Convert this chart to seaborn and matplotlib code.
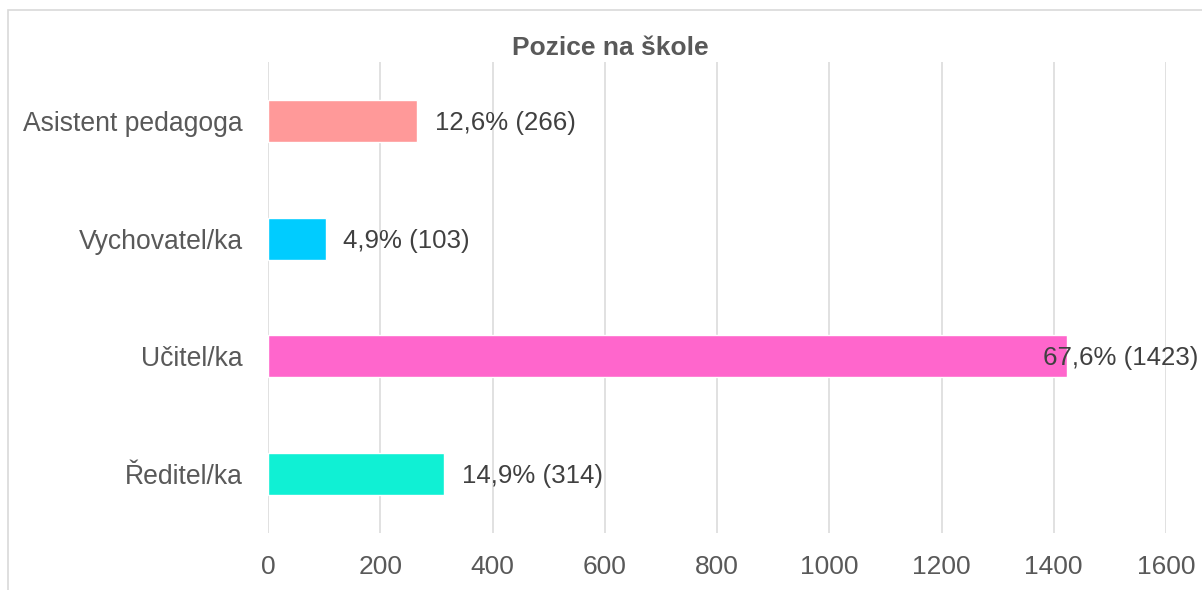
import matplotlib
matplotlib.use("Agg")
import matplotlib.pyplot as plt
import seaborn as sns
import pandas as pd
from matplotlib.patches import Rectangle

categories = ["Asistent pedagoga", "Vychovatel/ka", "Učitel/ka", "Ředitel/ka"]
counts = [266, 103, 1423, 314]
percents = ["12,6%", "4,9%", "67,6%", "14,9%"]
colors = ["#FF9999", "#00CCFF", "#FF66CC", "#10F0D4"]
x_ticks = [0, 200, 400, 600, 800, 1000, 1200, 1400, 1600]
title = "Pozice na škole"

sns.set_theme(style="white")
plt.rcParams["font.family"] = ["Liberation Sans", "DejaVu Sans"]

df = pd.DataFrame({"pozice": categories, "pocet": counts})

W, H = 1202, 590
fig = plt.figure(figsize=(W / 100, H / 100), dpi=100)
fig.patch.set_facecolor("white")
ax = fig.add_axes([268 / W, 1 - 533 / H, (1166 - 268) / W, (533 - 62) / H])

sns.barplot(data=df, x="pocet", y="pozice", hue="pozice", palette=colors,
            order=categories, hue_order=categories, legend=False,
            width=0.357, orient="h", ax=ax, saturation=1)

ax.set_xlim(0, 1600)
ax.set_ylim(3.5, -0.5)
ax.set_xticks(x_ticks)
ax.set_xticklabels([str(t) for t in x_ticks])
ax.set_xlabel("")
ax.set_ylabel("")
for s in ax.spines.values():
    s.set_visible(False)
ax.grid(axis="x", color="#D9D9D9", linewidth=1.1)
ax.grid(axis="y", visible=False)
ax.set_axisbelow(True)
ax.tick_params(axis="x", length=0, pad=16, labelsize=19, labelcolor="#595959")
ax.tick_params(axis="y", length=0, pad=18, labelsize=19.1, labelcolor="#595959")

for i, (c, p) in enumerate(zip(counts, percents)):
    off = 12.5 if c < 0.85 * 1600 else -17
    ax.annotate(f"{p} ({c})", xy=(c, i), xytext=(off, -1.5), textcoords="offset points",
                ha="left", va="center", fontsize=18.6, color="#404040",
                annotation_clip=False)

fig.text(610 / W, 1 - 48 / H, title, ha="center", va="center",
         fontsize=19, fontweight="bold", color="#595959")

fig.patches.append(Rectangle((8 / W, -0.1), 1.2, 1 - 10 / H + 0.1, transform=fig.transFigure,
                             fill=False, edgecolor="#D9D9D9", linewidth=1.2))

fig.savefig("out.png", dpi=100, facecolor="white")
